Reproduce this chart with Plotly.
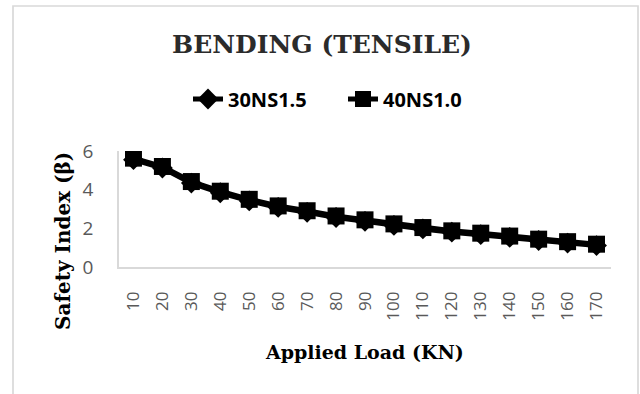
import plotly.graph_objects as go

loads = ["10", "20", "30", "40", "50", "60", "70", "80", "90", "100",
         "110", "120", "130", "140", "150", "160", "170"]
beta_30ns15 = [5.55, 5.12, 4.34, 3.84, 3.42, 3.08, 2.83, 2.56, 2.36, 2.15,
               1.97, 1.80, 1.67, 1.53, 1.37, 1.24, 1.11]
beta_40ns10 = [5.63, 5.20, 4.42, 3.92, 3.50, 3.16, 2.91, 2.64, 2.44, 2.23,
               2.04, 1.87, 1.75, 1.60, 1.44, 1.31, 1.18]

W, H = 640, 394
L, R, T, B = 119, 29, 151, 127
pw = W - L - R
ph = H - T - B

fig = go.Figure()
fig.add_trace(go.Scatter(
    x=loads, y=beta_30ns15, name="30NS1.5", mode="lines+markers",
    line=dict(color="black", width=5),
    marker=dict(symbol="diamond", size=16, color="black"),
))
fig.add_trace(go.Scatter(
    x=loads, y=beta_40ns10, name="40NS1.0", mode="lines+markers",
    line=dict(color="black", width=5),
    marker=dict(symbol="square", size=17, color="black"),
))

def px_x(p):
    return (p - L) / pw

def px_y(p):
    return (H - B - p) / ph

fig.add_shape(type="rect", xref="paper", yref="paper",
              x0=px_x(13), x1=px_x(638), y0=px_y(400), y1=px_y(6),
              line=dict(color="#d9d9d9", width=1.7), layer="below")

fig.add_annotation(text="Safety Index (β)", xref="paper", yref="paper",
                   x=px_x(63), y=px_y(241), showarrow=False, textangle=-90,
                   font=dict(family="DejaVu Serif", size=20, color="black", weight="bold"),
                   xanchor="center", yanchor="middle")
fig.add_annotation(text="Applied Load (KN)", xref="paper", yref="paper",
                   x=px_x(364), y=px_y(352), showarrow=False,
                   font=dict(family="DejaVu Serif", size=19, color="black", weight="bold"),
                   xanchor="center", yanchor="middle")

fig.update_layout(
    width=W, height=H,
    margin=dict(l=L, r=R, t=T, b=B),
    paper_bgcolor="white", plot_bgcolor="white",
    title=dict(text="BENDING (TENSILE)", xref="container", yref="container",
               x=322 / W, y=1 - 44 / H, xanchor="center", yanchor="middle",
               font=dict(family="DejaVu Serif", size=25, color="#2b2b2b", weight="bold")),
    legend=dict(orientation="h", xref="container", yref="container",
                x=343 / W, y=1 - 99 / H, xanchor="center", yanchor="middle",
                entrywidth=110, entrywidthmode="pixels",
                font=dict(family="Open Sans", size=20, color="black", weight="bold"),
                bgcolor="rgba(0,0,0,0)"),
    showlegend=True,
)
fig.update_xaxes(
    type="category", range=[-0.5, 16.5], showgrid=False, zeroline=False,
    showline=True, linecolor="#d9d9d9", linewidth=1.5,
    tickangle=-90, ticks="", ticklabelstandoff=16,
    tickfont=dict(family="Open Sans", size=17, color="#595959"),
)
fig.update_yaxes(
    range=[0, 6], dtick=2, showgrid=False, zeroline=False,
    showline=True, linecolor="#d9d9d9", linewidth=1.5,
    ticks="", ticklabelstandoff=20,
    tickfont=dict(family="Open Sans", size=19, color="#595959"),
)

fig.write_html("out.html")
